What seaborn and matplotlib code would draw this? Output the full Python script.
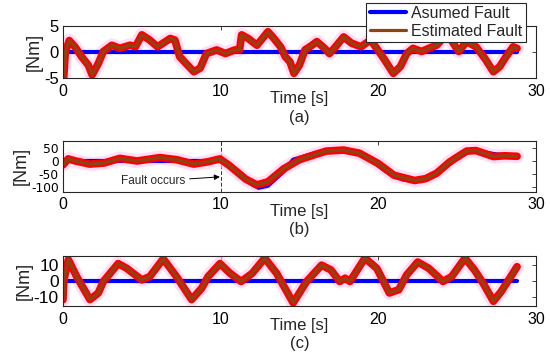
import numpy as np
import pandas as pd
import seaborn as sns
import matplotlib.pyplot as plt

# ------------------- DATA -------------------

# panel (a): estimated fault, assumed fault is flat zero
t_a = [0.05, 0.15, 0.4, 0.76, 1.18, 1.6, 1.85, 2.24, 2.56, 3.1, 3.6, 4.25, 4.6, 5.0, 5.5, 6.0,
       6.8, 7.1, 7.4, 7.8, 8.3, 8.7, 9.1, 9.75, 10.3, 10.9, 11.2, 11.33, 11.75, 12.3, 13.0,
       13.3, 13.8, 14.1, 14.4, 14.65, 15.0, 15.35, 15.8, 16.1, 16.6, 16.9, 17.2, 17.8, 18.3,
       18.9, 19.5, 19.9, 20.4, 20.95, 21.4, 21.8, 22.2, 22.75, 23.2, 23.7, 24.0, 24.4, 24.75,
       25.1, 25.6, 26.2, 26.75, 27.3, 27.7, 28.1, 28.55, 28.8]
est_a = [-4.8, 0.0, 2.2, 1.0, -0.9, -2.5, -4.4, -2.2, 0.1, 1.3, 0.7, 1.3, 1.0, 3.3, 2.3, 1.0,
         2.6, 2.3, -0.9, -2.2, -3.8, -3.1, -0.3, 0.4, -0.3, 0.4, 0.4, 3.3, 2.6, 1.3, 3.9,
         2.9, 1.0, -0.9, -1.9, -4.1, -2.5, 0.4, 1.3, 2.0, 0.7, -0.3, 0.7, 2.9, 1.7,
         1.0, 2.3, 0.7, -1.5, -4.1, -2.8, -0.3, 0.7, 0.1, 0.7, 1.3, 2.3, 3.6, 1.7,
         0.1, 2.0, 1.0, -1.2, -3.8, -2.8, -0.9, 1.0, 0.7]
t_ref_a = [0.0, 28.8]
ref_a = [0.0, 0.0]

# panel (b)
t_b = [0.0, 0.33, 0.8, 1.7, 2.6, 3.6, 4.7, 6.15, 7.2, 8.3, 9.2, 9.95, 10.5, 11.0, 11.6,
       12.3, 13.0, 14.0, 15.0, 16.0, 16.7, 17.8, 18.8, 20.0, 21.0, 22.3, 23.0, 23.7, 24.5,
       25.0, 25.6, 26.2, 27.3, 28.0, 28.8]
est_b = [-15, 8, 0, -12, -8, 10, 0, 13, 5, -12, -3, 8, -15, -40, -70,
         -92, -80, -30, 5, 25, 38, 42, 30, -10, -55, -75, -68, -47, -5,
         15, 38, 40, 17, 20, 18]
t_ref_b = [0.0, 10.0, 11.0, 12.0, 12.4, 13.0, 14.0, 14.6, 15.0, 16.0, 17.0, 17.6, 18.5,
           19.5, 20.5, 21.5, 22.3, 23.0, 24.0, 25.0, 25.8, 26.5, 27.5, 28.2, 28.8]
ref_b = [0, 0, -40, -90, -103, -95, -40, 5, 12, 30, 42, 44, 35,
         5, -40, -70, -78, -70, -35, 10, 38, 35, 25, 22, 13]

# panel (c)
t_c = [0.0, 0.05, 0.34, 0.87, 1.71, 2.24, 2.56, 3.5, 4.04, 5.0, 5.5, 6.36, 7.2, 8.16, 8.8,
       9.2, 9.96, 10.6, 11.3, 12.0, 12.8, 13.55, 14.6, 15.45, 16.4, 17.0, 17.55, 17.9, 18.2,
       19.15, 19.9, 20.7, 21.3, 21.8, 22.5, 23.2, 24.1, 24.65, 25.5, 26.1, 26.65, 27.3,
       27.8, 28.8]
est_c = [-12, 0, 13.5, 2.7, -11.9, -7.7, -0.4, 11, 8, 0.6, 2.7, 14, 2.7, -11.9, -4.6,
         2.7, 11, 4.8, -0.4, 4.8, 14.5, 4.8, -14, -0.4, 10, 6.9, -0.4, 1.7, -0.4,
         14.5, 8, -7.7, -5.6, 3.8, 12, 8, -0.4, 2.7, 14.5, 6.9, -1.5, -13,
         -6.7, 9]
t_ref_c = [0.0, 28.8]
ref_c = [0.0, 0.0]

panels = [
    ("(a)", t_a, est_a, t_ref_a, ref_a, (-5, 5), [5, 0, -5], 12),
    ("(b)", t_b, est_b, t_ref_b, ref_b, (-118, 78), [50, 0, -50, -100], 8.8),
    ("(c)", t_c, est_c, t_ref_c, ref_c, (-16, 16), [10, 0, -10], 12.5),
]

# ------------------- PLOT -------------------

sns.set_style("white")
plt.rcParams['font.family'] = ['Liberation Sans', 'DejaVu Sans']
plt.rcParams['font.size'] = 11
plt.rcParams['axes.unicode_minus'] = False

BLUE = '#0000ff'
BROWN = '#8c4412'
RED = '#ff0000'
PINK = '#ffc8f0'

fig = plt.figure(figsize=(5.5, 3.64), dpi=100)
boxes = [[0.1145, 0.7857, 0.86, 0.1429],
         [0.1145, 0.4734, 0.86, 0.1401],
         [0.1145, 0.1593, 0.86, 0.1382]]

for box, (tag, t, est, t_ref, ref, ylim, yt, yfs) in zip(boxes, panels):
    ax = fig.add_axes(box)
    sns.lineplot(x=t, y=est, ax=ax, color=PINK, lw=10, alpha=0.6)
    sns.lineplot(x=t_ref, y=ref, ax=ax, color=BLUE, lw=3, label="Asumed Fault")
    sns.lineplot(x=t, y=est, ax=ax, color=RED, lw=5.5)
    sns.lineplot(x=t, y=est, ax=ax, color=BROWN, lw=2.3, label="Estimated Fault")
    ax.set_xlim(0, 30)
    ax.set_ylim(*ylim)
    ax.set_xticks([0, 10, 20, 30])
    ax.set_yticks(yt)
    ax.tick_params(direction='in', length=3, width=0.6, top=True, right=True,
                   colors='#262626', labelcolor='black')
    ax.tick_params(axis='x', labelsize=11.5, pad=4)
    ax.tick_params(axis='y', labelsize=yfs, pad=3)
    if tag == "(b)":
        # squeezed tick labels in this panel are wider than tall
        for lab in ax.get_yticklabels():
            lab.set_fontfamily('DejaVu Sans')
    for s in ax.spines.values():
        s.set_color('#262626')
        s.set_linewidth(0.8)
    ax.set_ylabel("[Nm]", labelpad=1, fontsize=13)
    ax.set_xlabel("")
    ax.text(0.5, -0.39, "Time [s]", transform=ax.transAxes, ha='center', va='center', fontsize=12)
    ax.text(0.5, -0.75, tag, transform=ax.transAxes, ha='center', va='center', fontsize=12)
    if tag == "(a)":
        handles, labels = ax.get_legend_handles_labels()
        leg = ax.legend(handles, labels, loc='upper right', bbox_to_anchor=(0.978, 1.45),
                        fontsize=11.5, frameon=True, fancybox=False, framealpha=1,
                        edgecolor='#262626', handlelength=2.3, borderpad=0.2,
                        labelspacing=0.2, handletextpad=0.3, borderaxespad=0)
        leg.get_frame().set_linewidth(0.8)
        leg.set_zorder(10)
    else:
        ax.get_legend().remove()
    if tag == "(b)":
        ax.axvline(10, color='#333333', lw=0.7, ls=(0, (4, 2)), zorder=0)
        ax.annotate("Fault occurs", xy=(9.95, -61), xytext=(5.7, -78),
                    ha='center', va='center', fontsize=8.5,
                    arrowprops=dict(arrowstyle='-|>', color='black', lw=0.7,
                                    mutation_scale=8, shrinkA=1, shrinkB=0))

fig.savefig("out.png", dpi=100)
